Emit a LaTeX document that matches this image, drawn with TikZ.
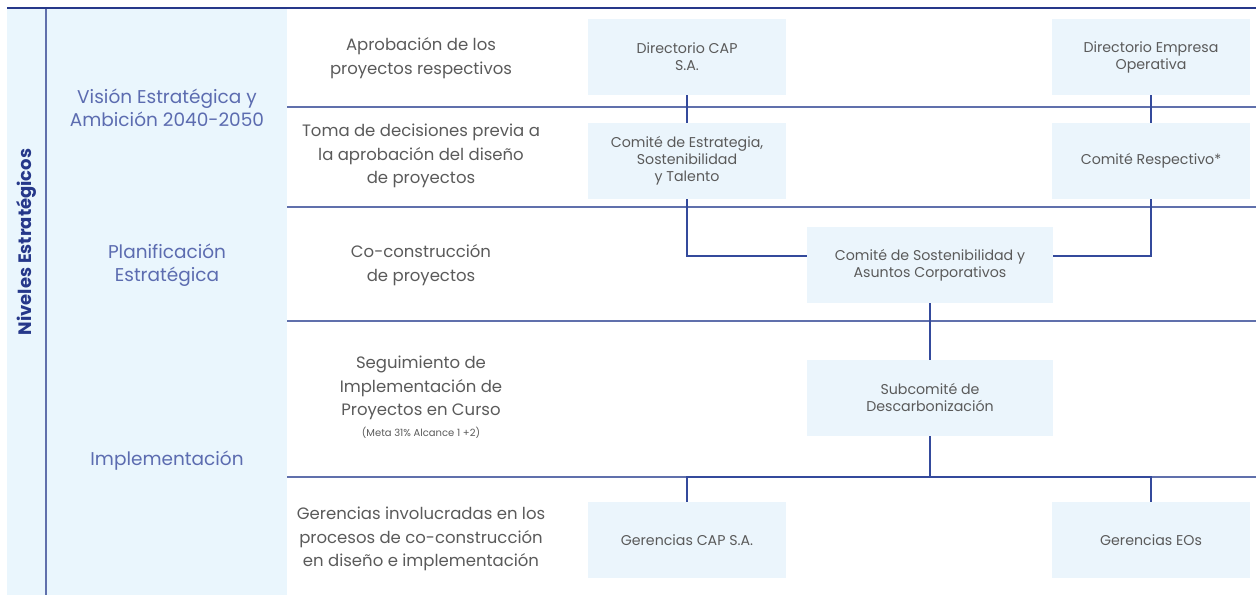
\documentclass[tikz,border=0pt]{standalone}
\usepackage{fontspec}
\setmainfont{Poppins}
\usetikzlibrary{positioning}
\definecolor{panelblue}{RGB}{234,246,253}
\definecolor{boxblue}{RGB}{235,245,252}
\definecolor{navy}{RGB}{38,56,138}
\definecolor{sepblue}{RGB}{96,112,172}
\definecolor{linkblue}{RGB}{52,74,156}
\definecolor{levelblue}{RGB}{92,108,176}
\definecolor{textgray}{RGB}{90,90,90}
\tikzset{
  unit/.style={fill=boxblue, minimum width=198pt, minimum height=76pt, inner sep=0pt,
    align=center, text=textgray, font=\fontsize{14.2}{17}\selectfont},
  wideunit/.style={unit, minimum width=246pt},
  level/.style={align=center, text=levelblue, font=\fontsize{18.5}{23}\selectfont},
  task/.style={align=center, text=textgray, font=\fontsize{16.5}{23.5}\selectfont},
  link/.style={linkblue, line width=1.3pt},
  sep/.style={sepblue, line width=1.2pt}
}

\begin{document}
\begin{tikzpicture}[x=1pt, y=-1pt]
            \useasboundingbox                                  (0,0) rectangle (1256,595);
            \fill[panelblue]                                   (7,8) rectangle (287,595);
            \draw[sep]                                         (46,8) -- (46,595);
            \draw[navy, line width=2pt]                        (7,8) -- (1256,8);
            \foreach \y in {107,207,321,477}
                \draw[sep]                                     (287,\y) -- (1256,\y);

            \node[rotate=90, text=navy, font=\fontsize{18}{20}\selectfont\bfseries] (niveles) at (26,242) {Niveles Estratégicos};

            \node[level] (vision) at (167,108) {Visión Estratégica y\\Ambición 2040-2050};
            \node[level] (planif) at (167,265) {Planificación\\Estratégica};
            \node[level] (implem) at (167,461) {Implementación};

            \node[task] (aprob)  at (421,58)  {Aprobación de los\\proyectos respectivos};
            \node[task] (toma)   at (421,156) {Toma de decisiones previa a\\la aprobación del diseño\\de proyectos};
            \node[task] (cocons) at (421,265) {Co-construcción\\de proyectos};
            \node[task] (seguim) at (421,388) {Seguimiento de\\Implementación de\\Proyectos en Curso};
            \node[text=textgray, font=\fontsize{10}{12}\selectfont, below=0pt of seguim] (meta) {(Meta 31\% Alcance 1 +2)};
            \node[task] (geren)  at (421,539) {Gerencias involucradas en los\\procesos de co-construcción\\en diseño e implementación};

            \node[unit] (dircap)  at (687,57)  {Directorio CAP\\S.A.};
            \node[unit] (direo)   at (1151,57) {Directorio Empresa\\Operativa};
            \node[unit] (cesyt)   at (687,161) {Comité de Estrategia,\\Sostenibilidad\\y Talento};
            \node[unit] (cresp)   at (1151,161) {Comité Respectivo*};
            \node[wideunit] (csac)    at (930,265) {Comité de Sostenibilidad y\\Asuntos Corporativos};
            \node[wideunit] (subdesc) at (930,398) {Subcomité de\\Descarbonización};
            \node[unit] (gcap)    at (687,540) {Gerencias CAP S.A.};
            \node[unit] (geos)    at (1151,540) {Gerencias EOs};

            \coordinate (split) at (930,477);
            \draw[link] (dircap) -- (cesyt);
            \draw[link] (direo) -- (cresp);
            \draw[link] (cesyt.south) |- ([yshift=9pt]csac.west);
            \draw[link] (cresp.south) |- ([yshift=9pt]csac.east);
            \draw[link] (csac) -- (subdesc);
            \draw[link] (subdesc) -- (split);
            \draw[link] (gcap.north) |- (split) -| (geos.north);
        \end{tikzpicture}
\end{document}
